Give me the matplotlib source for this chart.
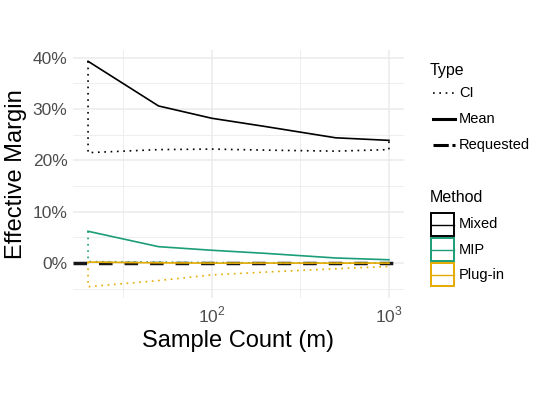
import numpy as np
import matplotlib
matplotlib.use("Agg")
import matplotlib.pyplot as plt
from matplotlib.lines import Line2D
from matplotlib.patches import Rectangle

plt.rcParams['font.family'] = ['Liberation Sans', 'DejaVu Sans']
plt.rcParams['mathtext.fontset'] = 'custom'
plt.rcParams['mathtext.rm'] = 'Liberation Sans'

# sample counts and effective margins (percent)
m = [20, 50, 100, 200, 500, 1000]
mixed_mean = [39.3, 30.6, 28.2, 26.6, 24.4, 23.9]
mixed_ci = [21.5, 22.1, 22.2, 22.0, 21.8, 22.1]
mip_mean = [6.2, 3.2, 2.5, 1.9, 1.0, 0.65]
mip_ci = [0.3, 0.2, 0.1, 0.05, 0.0, 0.0]
plugin_mean = [0.2, 0.05, 0.0, 0.0, 0.0, 0.0]
plugin_ci = [-4.6, -3.4, -2.3, -1.75, -1.1, -0.65]
requested = 0.0

methods = ["Mixed", "MIP", "Plug-in"]
colors = ["#000000", "#1B9E77", "#E6AB02"]
means = [mixed_mean, mip_mean, plugin_mean]
cis = [mixed_ci, mip_ci, plugin_ci]

W, H = 540, 405
fig = plt.figure(figsize=(W / 100, H / 100), dpi=100)
L, R, T, B = 73, 404, 50, 298
ax = fig.add_axes([L / W, 1 - B / H, (R - L) / W, (B - T) / H])

ax.set_xscale('log')
lx = np.log10(m)
span = lx.max() - lx.min()
ax.set_xlim(10 ** (lx.min() - 0.05 * span), 10 ** (lx.max() + 0.05 * span))
allv = np.concatenate([np.array(v) for v in means + cis])
lo, hi = allv.min(), allv.max()
ax.set_ylim(lo - 0.05 * (hi - lo), hi + 0.05 * (hi - lo))

# grid (ggplot theme_minimal look)
for v in [0, 10, 20, 30, 40]:
    ax.axhline(v, color='#EBEBEB', lw=1.1, zorder=0)
for v in [-5, 5, 15, 25, 35]:
    ax.axhline(v, color='#EBEBEB', lw=0.6, zorder=0)
for v in [100, 1000]:
    ax.axvline(v, color='#EBEBEB', lw=1.1, zorder=0)
for v in [10 ** 1.5, 10 ** 2.5]:
    ax.axvline(v, color='#EBEBEB', lw=0.6, zorder=0)

ax.axhline(requested, color='black', lw=2.5, linestyle=(0, (3.9, 3.45)),
           alpha=0.9, zorder=1)

dot = (0, (1, 2.8))
for mean, ci, c in zip(means, cis, colors):
    ax.plot(m, mean, color=c, lw=1.2, zorder=3)
    xs = [m[0]] + m + [m[-1]]
    ys = [mean[0]] + ci + [mean[-1]]
    ax.plot(xs, ys, color=c, lw=1.2, linestyle=dot, zorder=2)

ax.set_xticks([100, 1000])
ax.set_xticklabels(['$10^2$', '$10^3$'])
ax.xaxis.set_minor_locator(matplotlib.ticker.NullLocator())
ax.set_yticks([0, 10, 20, 30, 40])
ax.set_yticklabels([f"{v}%" for v in [0, 10, 20, 30, 40]])
ax.tick_params(length=0, labelsize=12.5, labelcolor='#4D4D4D', pad=4)
ax.tick_params(axis='x', pad=5)
for s in ax.spines.values():
    s.set_visible(False)
ax.set_xlabel("Sample Count (m)", fontsize=17, labelpad=3)
ax.set_ylabel("Effective Margin", fontsize=17, labelpad=4)

# legends drawn in pixel coordinates
lg = fig.add_axes([0, 0, 1, 1])
lg.set_xlim(0, W)
lg.set_ylim(H, 0)
lg.axis('off')
lg.patch.set_alpha(0)

lg.text(430, 70, "Type", fontsize=11.5, va='center', ha='left')
type_rows = [("CI", dot, 1.2), ("Mean", '-', 2.2), ("Requested", (0, (5, 1.2)), 2.2)]
for i, (lab, ls, lw) in enumerate(type_rows):
    y = 93 + i * 26
    lg.add_line(Line2D([433, 455], [y, y], color='black', lw=lw, linestyle=ls))
    lg.text(459, y, lab, fontsize=10.5, va='center', ha='left')

lg.text(430, 197, "Method", fontsize=11.5, va='center', ha='left')
for i, (lab, c) in enumerate(zip(methods, colors)):
    y0 = 213 + i * 25
    lg.add_patch(Rectangle((431, y0), 23, 23, fill=False, edgecolor=c, lw=1.4))
    lg.add_line(Line2D([431, 454], [y0 + 11.5, y0 + 11.5], color=c, lw=1.0))
    lg.text(459, y0 + 11.5, lab, fontsize=10.5, va='center', ha='left')

fig.savefig("out.png", dpi=100)
